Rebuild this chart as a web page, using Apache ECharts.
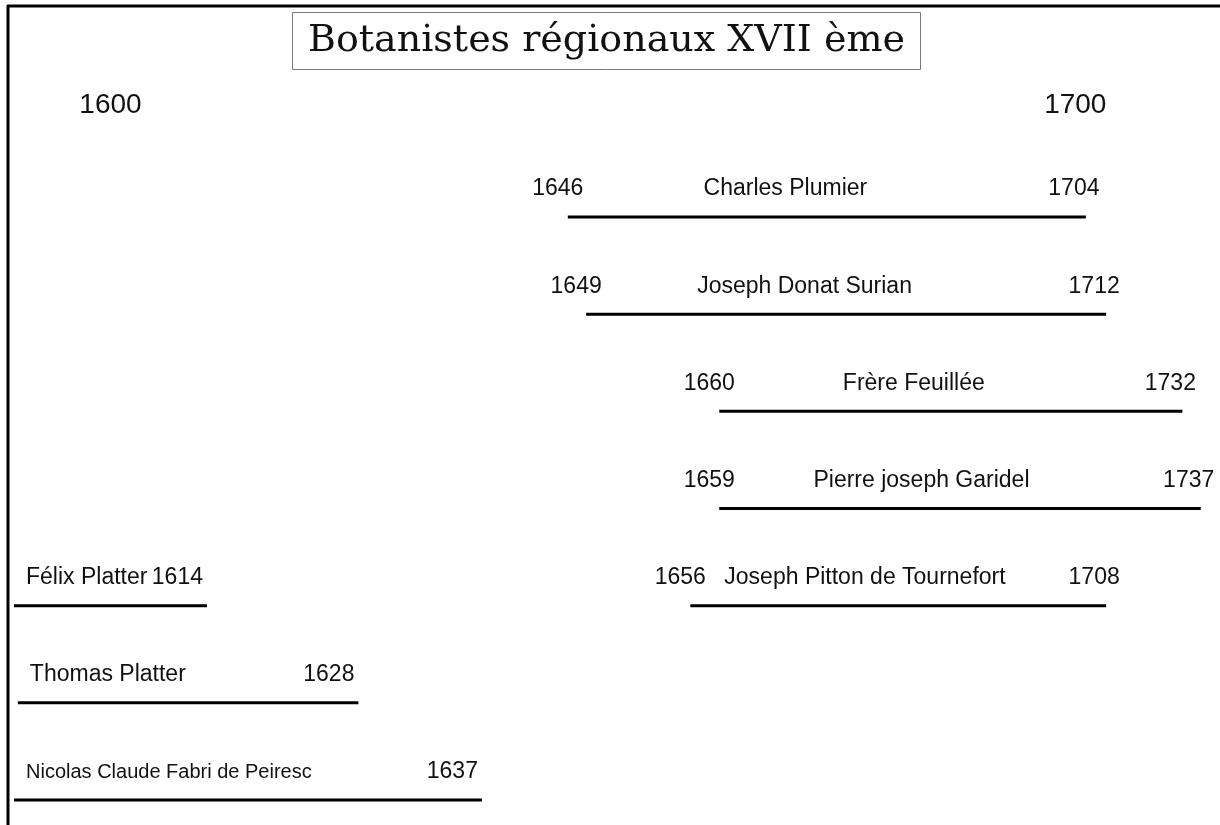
<!DOCTYPE html>
<html>
<head>
    <meta charset="utf-8">
    <title>Botanistes régionaux XVII ème</title>
    <script src="https://cdn.jsdelivr.net/npm/echarts@6/dist/echarts.min.js"></script>
    <style>
        * {
            margin: 0;
            padding: 0
        }

        html, body {
            width: 100%;
            height: 100%;
            background: #fff;
        }

        #main {
            width: 1220px;
            height: 825px;
        }
    </style>
</head>
<body>
<div id="main"></div>
<script type="text/javascript">
    /*-------------------- données -----------------------------*/
    var noms = ['Charles Plumier', 'Joseph Donat Surian', 'Frère Feuillée', 'Pierre joseph Garidel',
        'Joseph Pitton de Tournefort', 'Félix Platter', 'Thomas Platter', 'Nicolas Claude Fabri de Peiresc'];
    var rangs = ['r1', 'r2', 'r3', 'r4', 'r5', 'r6', 'r7'];
    var rangDe = [0, 1, 2, 3, 4, 4, 5, 6];
    var naissance = [1646, 1649, 1660, 1659, 1656, null, null, null];
    var deces = [1704, 1712, 1732, 1737, 1708, 1614, 1628, 1637];
    // étendue de chaque trait, lue contre les repères 1600 / 1700 du dessin
    var traitDebut = [1647.4, 1649.3, 1663.1, 1663.1, 1660.1, 1590.0, 1590.4, 1590.0];
    var traitFin = [1701.1, 1703.2, 1711.1, 1713.0, 1703.2, 1610.0, 1625.7, 1638.5];
    var reperes = [1600, 1700];

    var police = 'Liberation Sans, Arial, sans-serif';

    var donnees = [];
    for (var i = 0; i < noms.length; i++) {
        donnees.push([traitDebut[i], traitFin[i], rangDe[i]]);
    }

    function texte(x, y, txt, align, taille) {
        return {
            type: 'text',
            x: x,
            y: y,
            style: {
                text: txt,
                fill: '#111',
                fontSize: taille,
                fontFamily: police,
                align: align,
                verticalAlign: 'middle'
            }
        };
    }

    function renderItem(params, api) {
        var i = params.dataIndex;
        var a = api.coord([api.value(0), api.value(2)]);
        var b = api.coord([api.value(1), api.value(2)]);
        var y = a[1];
        var ty = y - 28;
        // le nom le plus long est écrit plus petit
        var taille = noms[i].length > 28 ? 20 : 23;
        var enfants = [{
            type: 'line',
            shape: {x1: a[0], y1: y, x2: b[0], y2: y},
            style: {stroke: '#000', lineWidth: 3}
        }];
        if (naissance[i] != null) {
            enfants.push(texte(a[0] - 10, ty, String(naissance[i]), 'center', 23));
            enfants.push(texte(a[0] + 0.42 * (b[0] - a[0]), ty, noms[i], 'center', taille));
            enfants.push(texte(b[0] - 12, ty, String(deces[i]), 'center', 23));
        } else {
            enfants.push(texte(a[0] + 12, ty, noms[i], 'left', taille));
            enfants.push(texte(b[0] - 4, ty, String(deces[i]), 'right', 23));
        }
        return {type: 'group', children: enfants};
    }

    var myChart = echarts.init(document.getElementById('main'));
    myChart.setOption({
        animation: false,
        backgroundColor: '#fff',
        title: {
            text: 'Botanistes régionaux XVII ème',
            left: 292,
            top: 12,
            padding: [10, 16],
            borderWidth: 1,
            borderColor: '#777',
            textStyle: {
                fontFamily: 'DejaVu Serif, serif',
                fontWeight: 'normal',
                fontSize: 38,
                color: '#111'
            }
        },
        graphic: [
            {type: 'line', shape: {x1: 7, y1: 6, x2: 1220, y2: 6}, style: {stroke: '#000', lineWidth: 3}},
            {type: 'line', shape: {x1: 8, y1: 5, x2: 8, y2: 825}, style: {stroke: '#000', lineWidth: 3}}
        ],
        grid: {
            left: 14,
            width: 1209,
            top: 217,
            height: 583
        },
        xAxis: {
            type: 'value',
            position: 'top',
            min: 1590,
            max: 1715,
            axisLine: {show: false},
            axisTick: {show: false},
            splitLine: {show: false},
            axisLabel: {
                customValues: reperes,
                margin: 98,
                fontSize: 28,
                fontFamily: police,
                color: '#111',
                formatter: function (v) {
                    return String(v);
                }
            }
        },
        yAxis: {
            type: 'category',
            data: rangs,
            inverse: true,
            boundaryGap: false,
            show: false
        },
        series: [{
            type: 'custom',
            renderItem: renderItem,
            data: donnees,
            clip: false
        }]
    });
</script>
</body>
</html>
